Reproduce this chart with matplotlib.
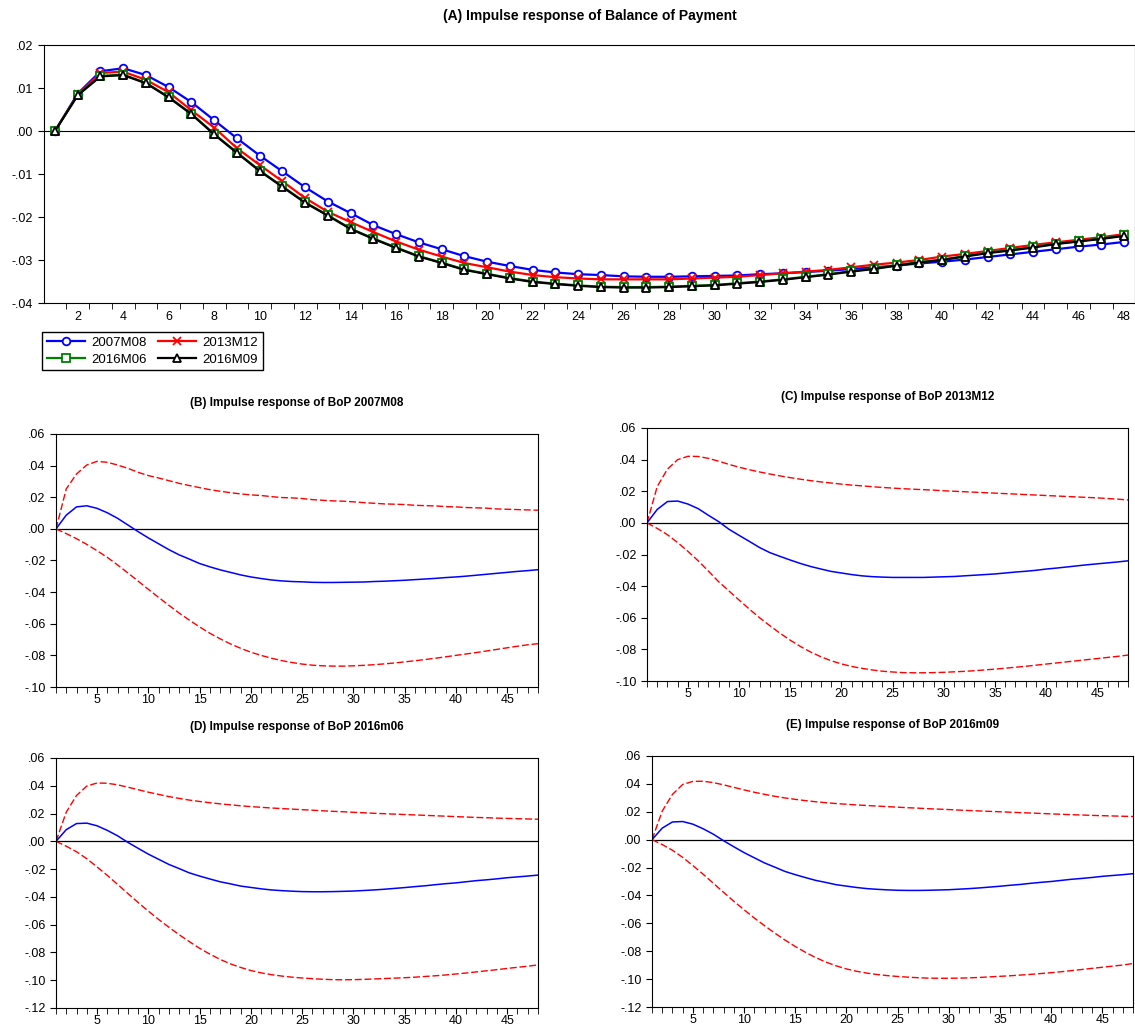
import matplotlib
matplotlib.use("Agg")
import matplotlib.pyplot as plt
from matplotlib.ticker import FuncFormatter, FixedLocator

plt.rcParams['font.family'] = ['Liberation Sans', 'DejaVu Sans']
plt.rcParams['font.size'] = 9

W, H = 1135, 1028

periods = list(range(1, 49))

# (A) impulse responses of balance of payment, four sub-samples
bop_2007m08 = [0.0, .0087, .0139, .0146, .0130, .0102, .0067, .0025, -.0017, -.0057,
               -.0094, -.0131, -.0164, -.0191, -.0219, -.0240, -.0259, -.0275, -.0291, -.0304,
               -.0314, -.0323, -.0329, -.0333, -.0335, -.0338, -.0339, -.0339, -.0338, -.0337,
               -.0336, -.0333, -.0331, -.0328, -.0325, -.0321, -.0317, -.0313, -.0308, -.0304,
               -.0299, -.0293, -.0287, -.0281, -.0275, -.0269, -.0264, -.0258]
bop_2013m12 = [0.0, .0085, .0135, .0138, .0119, .0090, .0048, .0008, -.0040, -.0079,
               -.0117, -.0156, -.0188, -.0212, -.0235, -.0257, -.0276, -.0292, -.0307, -.0317,
               -.0327, -.0335, -.0340, -.0343, -.0345, -.0345, -.0345, -.0345, -.0343, -.0341,
               -.0339, -.0335, -.0331, -.0327, -.0323, -.0317, -.0311, -.0306, -.0300, -.0292,
               -.0286, -.0279, -.0272, -.0265, -.0259, -.0253, -.0247, -.0240]
bop_2016m06 = [0.0, .0084, .0128, .0131, .0112, .0079, .0040, -.0007, -.0050, -.0092,
               -.0129, -.0166, -.0196, -.0227, -.0250, -.0271, -.0291, -.0306, -.0322, -.0332,
               -.0342, -.0350, -.0355, -.0359, -.0362, -.0363, -.0363, -.0362, -.0360, -.0358,
               -.0354, -.0350, -.0345, -.0339, -.0333, -.0326, -.0320, -.0312, -.0305, -.0299,
               -.0291, -.0283, -.0277, -.0270, -.0262, -.0256, -.0250, -.0243]
bop_2016m09 = [0.0, .0083, .0127, .0130, .0111, .0078, .0039, -.0008, -.0051, -.0093,
               -.0130, -.0167, -.0197, -.0228, -.0251, -.0272, -.0292, -.0307, -.0323, -.0333,
               -.0343, -.0351, -.0356, -.0360, -.0363, -.0364, -.0364, -.0363, -.0361, -.0359,
               -.0355, -.0351, -.0346, -.0340, -.0334, -.0327, -.0321, -.0313, -.0306, -.0300,
               -.0292, -.0284, -.0278, -.0271, -.0263, -.0257, -.0251, -.0244]

# confidence bands for panels (B)-(E)
upper_b = [0.0, .0253, .0347, .0404, .0427, .0421, .0404, .0383, .0358, .0337,
           .0322, .0305, .0288, .0274, .0261, .0248, .0238, .0229, .0221, .0215,
           .0211, .0204, .0198, .0196, .0192, .0185, .0181, .0177, .0175, .0171,
           .0166, .0162, .0158, .0156, .0154, .0149, .0147, .0145, .0141, .0139,
           .0135, .0133, .0131, .0126, .0124, .0122, .0120, .0118]
lower_b = [0.0, -.0030, -.0062, -.0098, -.0138, -.0180, -.0228, -.0278, -.0330, -.0382,
           -.0433, -.0483, -.0532, -.0577, -.0620, -.0660, -.0695, -.0727, -.0755, -.0780,
           -.0800, -.0818, -.0833, -.0845, -.0855, -.0862, -.0866, -.0868, -.0868, -.0866,
           -.0863, -.0859, -.0854, -.0848, -.0841, -.0834, -.0826, -.0818, -.0809, -.0800,
           -.0791, -.0782, -.0772, -.0762, -.0752, -.0742, -.0733, -.0726]
upper_c = [0.0, .0230, .0340, .0400, .0421, .0420, .0408, .0390, .0370, .0352,
           .0336, .0322, .0309, .0297, .0286, .0276, .0267, .0259, .0252, .0245,
           .0239, .0234, .0229, .0224, .0220, .0216, .0213, .0210, .0207, .0203,
           .0200, .0197, .0194, .0191, .0188, .0185, .0182, .0179, .0176, .0173,
           .0170, .0167, .0164, .0161, .0158, .0154, .0150, .0145]
lower_c = [0.0, -.0035, -.0075, -.0125, -.0180, -.0240, -.0305, -.0372, -.0430, -.0488,
           -.0545, -.0600, -.0650, -.0698, -.0742, -.0782, -.0817, -.0847, -.0872, -.0892,
           -.0908, -.0920, -.0930, -.0938, -.0943, -.0947, -.0948, -.0948, -.0947, -.0945,
           -.0942, -.0939, -.0935, -.0930, -.0925, -.0919, -.0913, -.0907, -.0900, -.0893,
           -.0886, -.0879, -.0872, -.0865, -.0858, -.0851, -.0844, -.0836]
upper_d = [0.0, .0210, .0330, .0398, .0420, .0418, .0407, .0390, .0372, .0354,
           .0338, .0322, .0309, .0297, .0287, .0278, .0270, .0263, .0256, .0250,
           .0245, .0240, .0236, .0232, .0228, .0224, .0220, .0216, .0213, .0209,
           .0206, .0202, .0199, .0196, .0193, .0190, .0187, .0184, .0181, .0178,
           .0175, .0172, .0170, .0167, .0165, .0163, .0161, .0159]
lower_d = [0.0, -.0035, -.0075, -.0125, -.0184, -.0245, -.0310, -.0375, -.0440, -.0502,
           -.0562, -.0618, -.0672, -.0722, -.0770, -.0812, -.0850, -.0882, -.0908, -.0930,
           -.0947, -.0960, -.0970, -.0978, -.0984, -.0989, -.0993, -.0996, -.0997, -.0996,
           -.0994, -.0991, -.0988, -.0985, -.0982, -.0978, -.0973, -.0968, -.0962, -.0955,
           -.0948, -.0940, -.0932, -.0924, -.0915, -.0907, -.0899, -.0890]
upper_e = [0.0, .0205, .0325, .0396, .0418, .0419, .0409, .0393, .0375, .0357,
           .0340, .0325, .0311, .0299, .0289, .0280, .0272, .0265, .0259, .0254,
           .0249, .0245, .0241, .0237, .0233, .0229, .0226, .0222, .0219, .0216,
           .0212, .0209, .0206, .0203, .0200, .0197, .0194, .0191, .0188, .0185,
           .0182, .0179, .0177, .0174, .0172, .0170, .0168, .0166]
lower_e = [0.0, -.0035, -.0076, -.0127, -.0186, -.0248, -.0313, -.0378, -.0442, -.0503,
           -.0562, -.0617, -.0670, -.0720, -.0766, -.0808, -.0846, -.0878, -.0905, -.0927,
           -.0944, -.0957, -.0967, -.0975, -.0981, -.0986, -.0990, -.0993, -.0994, -.0994,
           -.0993, -.0991, -.0988, -.0984, -.0980, -.0976, -.0971, -.0966, -.0960, -.0954,
           -.0947, -.0939, -.0931, -.0923, -.0915, -.0907, -.0899, -.0888]


def dotfmt(v, pos):
    s = f"{round(v, 4):.2f}"
    if s == "-0.00":
        s = "0.00"
    return s.replace("0.", ".", 1)


def px_axes(fig, left, top, right, bottom):
    return fig.add_axes([left / W, 1 - bottom / H, (right - left) / W, (bottom - top) / H])


fig = plt.figure(figsize=(W / 100, H / 100), dpi=100)

# ---- panel (A)
ax = px_axes(fig, 43.6, 45, 1135.4, 303)
series = [(bop_2007m08, '2007M08', 'blue', 'o'),
          (bop_2013m12, '2013M12', 'red', 'x'),
          (bop_2016m06, '2016M06', 'green', 's'),
          (bop_2016m09, '2016M09', 'black', '^')]
handles = []
for vals, lab, col, mk in series:
    ln, = ax.plot(periods, vals, color=col, lw=1.6, marker=mk, ms=5.5,
                  mfc='white' if mk != 'x' else col, mec=col, mew=1.3, label=lab)
    handles.append(ln)
ax.axhline(0, color='black', lw=0.8, zorder=0)
ax.set_xlim(0.5, 48.5)
ax.set_ylim(-0.04, 0.02)
ax.set_yticks([-.04, -.03, -.02, -.01, 0, .01, .02])
ax.yaxis.set_major_formatter(FuncFormatter(dotfmt))
ax.xaxis.set_major_locator(FixedLocator(list(range(2, 49, 2))))
ax.xaxis.set_minor_locator(FixedLocator([p + 0.5 for p in range(1, 48)]))
ax.tick_params(axis='x', which='major', length=0, pad=6, labelsize=9)
ax.tick_params(axis='x', which='minor', length=4, direction='out')
ax.tick_params(axis='y', length=4, direction='out', labelsize=9)
fig.text(590 / W, 1 - 16 / H, '(A) Impulse response of Balance of Payment',
         ha='center', va='center', fontsize=10, fontweight='bold')

# legend is filled column by column, so order gives rows 2007/2013 and 2016M06/2016M09
order = [0, 2, 1, 3]
fig.legend(handles=[handles[i] for i in order], labels=[series[i][1] for i in order], ncol=2,
           loc='upper left', bbox_to_anchor=(42 / W, 1 - 332 / H), borderaxespad=0,
           fancybox=False, edgecolor='black', framealpha=1, fontsize=9.5,
           handlelength=2.9, columnspacing=0.8, borderpad=0.35, labelspacing=0.35,
           handletextpad=0.5)


def draw_panel(box, resp, lo, hi, title, ymin):
    a = px_axes(fig, *box)
    a.plot(periods, hi, color='red', lw=1.0, ls=(0, (5, 2)))
    a.plot(periods, lo, color='red', lw=1.0, ls=(0, (5, 2)))
    a.plot(periods, resp, color='blue', lw=1.1)
    a.axhline(0, color='black', lw=0.9, zorder=0)
    a.set_xlim(1, 48)
    a.set_ylim(ymin, 0.06)
    a.set_yticks([round(ymin + 0.02 * i, 2) for i in range(int(round((0.06 - ymin) / 0.02)) + 1)])
    a.yaxis.set_major_formatter(FuncFormatter(dotfmt))
    a.xaxis.set_major_locator(FixedLocator(list(range(5, 48, 5))))
    a.xaxis.set_minor_locator(FixedLocator(periods))
    a.tick_params(axis='x', which='both', length=4, direction='out', labelsize=9, pad=1)
    a.tick_params(axis='y', length=4, direction='out', labelsize=9)
    a.set_title(title, fontsize=8.5, fontweight='bold', pad=20)
    return a


draw_panel((56, 434, 538, 687), bop_2007m08, lower_b, upper_b,
           '(B) Impulse response of BoP 2007M08', -0.10)
draw_panel((647, 428, 1128, 681), bop_2013m12, lower_c, upper_c,
           '(C) Impulse response of BoP 2013M12', -0.10)
draw_panel((56, 758, 538, 1008), bop_2016m06, lower_d, upper_d,
           '(D) Impulse response of BoP 2016m06', -0.12)
draw_panel((652, 756, 1133, 1007), bop_2016m09, lower_e, upper_e,
           '(E) Impulse response of BoP 2016m09', -0.12)

fig.savefig('out.png', dpi=100)
